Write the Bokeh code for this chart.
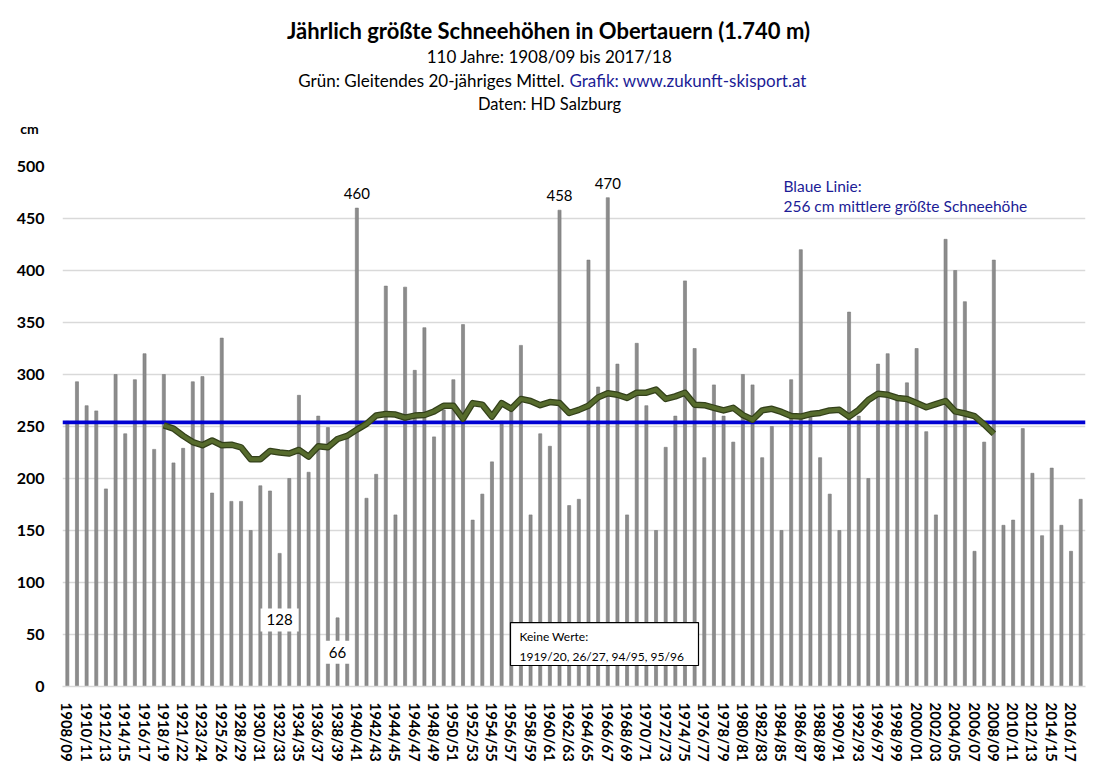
from bokeh.plotting import figure
from bokeh.layouts import column
from bokeh.models import Range1d, FixedTicker, Label, BoxAnnotation
from bokeh.core.properties import value
from bokeh.embed import file_html
from bokeh.resources import INLINE

# ---------------- data ----------------
seasons = [
    "1908/09", "1909/10", "1910/11", "1911/12", "1912/13", "1913/14", "1914/15", "1915/16",
    "1916/17", "1917/18", "1918/19", "1920/21", "1921/22", "1922/23", "1923/24", "1924/25",
    "1925/26", "1927/28", "1928/29", "1929/30", "1930/31", "1931/32", "1932/33", "1933/34",
    "1934/35", "1935/36", "1936/37", "1937/38", "1938/39", "1939/40", "1940/41", "1941/42",
    "1942/43", "1943/44", "1944/45", "1945/46", "1946/47", "1947/48", "1948/49", "1949/50",
    "1950/51", "1951/52", "1952/53", "1953/54", "1954/55", "1955/56", "1956/57", "1957/58",
    "1958/59", "1959/60", "1960/61", "1961/62", "1962/63", "1963/64", "1964/65", "1965/66",
    "1966/67", "1967/68", "1968/69", "1969/70", "1970/71", "1971/72", "1972/73", "1973/74",
    "1974/75", "1975/76", "1976/77", "1977/78", "1978/79", "1979/80", "1980/81", "1981/82",
    "1982/83", "1983/84", "1984/85", "1985/86", "1986/87", "1987/88", "1988/89", "1989/90",
    "1990/91", "1991/92", "1992/93", "1993/94", "1996/97", "1997/98", "1998/99", "1999/00",
    "2000/01", "2001/02", "2002/03", "2003/04", "2004/05", "2005/06", "2006/07", "2007/08",
    "2008/09", "2009/10", "2010/11", "2011/12", "2012/13", "2013/14", "2014/15", "2015/16",
    "2016/17", "2017/18",
]

snow_cm = [
    255, 293, 270, 265, 190, 300, 243, 295,
    320, 228, 300, 215, 229, 293, 298, 186,
    335, 178, 178, 150, 193, 188, 128, 200,
    280, 206, 260, 249, 66, 239, 460, 181,
    204, 385, 165, 384, 304, 345, 240, 266,
    295, 348, 160, 185, 216, 255, 267, 328,
    165, 243, 231, 458, 174, 180, 410, 288,
    470, 310, 165, 330, 270, 150, 230, 260,
    390, 325, 220, 290, 260, 235, 300, 290,
    220, 250, 150, 295, 420, 260, 220, 185,
    150, 360, 260, 200, 310, 320, 278, 292,
    325, 245, 165, 430, 400, 370, 130, 235,
    410, 155, 160, 248, 205, 145, 210, 155,
    130, 180,
]

# 20-year moving average (green), from 1918/19 to 2008/09
ma_first_season = "1918/19"
ma20_cm = [
    251, 248, 241, 235, 232, 236.5, 232, 232.5, 230, 218.5,
    218.5, 226.5, 225, 224, 227.5, 221, 231, 230, 238, 241,
    247, 252.5, 260.5, 262, 261.5, 258.5, 260.5, 261, 264.5, 270,
    270, 257.5, 272.5, 271, 259.5, 272.5, 267, 276.5, 274.5, 270.5,
    273.5, 272.5, 263, 266, 270, 278, 282, 280.5, 277.5, 282.5,
    282.5, 285.5, 276.5, 279, 282.5, 271, 270.5, 268, 265.5, 268,
    261, 256.5, 265.5, 267, 264, 260, 259.5, 262, 263, 265.5,
    266, 259.5, 266, 275.5, 281.5, 280.5, 277.5, 276.5, 272.5, 268.5,
    271.5, 274.5, 264.5, 262.5, 260, 252, 243,
]

mean_cm = 254
labels_outside = ["1940/41", "1961/62", "1966/67"]
labels_center = ["1932/33", "1938/39"]
y_ticks = [0, 50, 100, 150, 200, 250, 300, 350, 400, 450, 500]
x_tick_seasons = seasons[::2]

FONT = "Lato"
BLUE_TEXT = "#1c1c96"

# ---------------- header (titles) ----------------
h = figure(width=1100, height=150, x_range=Range1d(0, 1100), y_range=Range1d(150, 0),
           output_backend="svg", toolbar_location=None, min_border=0)
h.frame_align = False
h.axis.visible = False
h.grid.grid_line_color = None
h.outline_line_color = None

h.text(x=[548], y=[30], text=["Jährlich größte Schneehöhen in Obertauern (1.740 m)"],
       text_align="center", text_baseline="middle", text_font=value(FONT),
       text_font_size="22px", text_font_style="bold", text_color="#000000")
h.text(x=[549], y=[56], text=["110 Jahre: 1908/09 bis 2017/18"],
       text_align="center", text_baseline="middle", text_font=value(FONT),
       text_font_size="17px", text_color="#000000")
h.text(x=[564], y=[80], text=["Grün: Gleitendes 20-jähriges Mittel."],
       text_align="right", text_baseline="middle", text_font=value(FONT),
       text_font_size="17px", text_color="#000000")
h.text(x=[569], y=[80], text=["Grafik: www.zukunft-skisport.at"],
       text_align="left", text_baseline="middle", text_font=value(FONT),
       text_font_size="17px", text_color=BLUE_TEXT)
h.text(x=[549], y=[103], text=["Daten: HD Salzburg"],
       text_align="center", text_baseline="middle", text_font=value(FONT),
       text_font_size="16.5px", text_color="#000000")
h.text(x=[29], y=[128], text=["cm"],
       text_align="center", text_baseline="middle", text_font=value(FONT),
       text_font_size="14px", text_font_style="bold", text_color="#000000")

# ---------------- main chart ----------------
n = len(seasons)
xs = list(range(n))

p = figure(
    frame_width=1023, frame_height=520,
    min_border_left=62, min_border_right=15, min_border_top=16, min_border_bottom=84,
    x_range=Range1d(-0.5, n - 0.5), y_range=Range1d(0, 500),
    output_backend="svg", toolbar_location=None,
)
p.frame_align = False
p.outline_line_color = None
p.background_fill_color = "white"
p.border_fill_color = "white"

p.xgrid.grid_line_color = None
p.ygrid.ticker = FixedTicker(ticks=y_ticks)
p.ygrid.grid_line_color = "#d9d9d9"
p.ygrid.grid_line_width = 1.3

p.yaxis.ticker = FixedTicker(ticks=y_ticks)
p.yaxis.axis_line_color = None
p.yaxis.major_tick_line_color = None
p.yaxis.minor_tick_line_color = None
p.yaxis.major_label_standoff = 12
p.yaxis.major_label_text_font = FONT
p.yaxis.major_label_text_font_size = "16px"
p.yaxis.major_label_text_font_style = "bold"
p.yaxis.major_label_text_color = "#000000"

tick_idx = [seasons.index(s) for s in x_tick_seasons]
p.xaxis.ticker = FixedTicker(ticks=tick_idx)
p.xaxis.major_label_overrides = {i: seasons[i] for i in tick_idx}
p.xaxis.major_label_orientation = "vertical"
p.xaxis.axis_line_color = "#d9d9d9"
p.xaxis.axis_line_width = 1.3
p.xaxis.major_tick_line_color = None
p.xaxis.minor_tick_line_color = None
p.xaxis.major_label_standoff = 10
p.xaxis.major_label_text_font = FONT
p.xaxis.major_label_text_font_size = "15px"
p.xaxis.major_label_text_font_style = "bold"
p.xaxis.major_label_text_color = "#000000"

# bars
p.vbar(x=xs, top=snow_cm, bottom=0, width=0.32, fill_color="#8c8c8c", line_color="#7a7a7a", line_width=0.6)

# mean line (blue)
p.line(x=[-0.5, n - 0.5], y=[mean_cm, mean_cm], line_color="#0000d2", line_width=3.6)

# moving average (green)
ma_start = seasons.index(ma_first_season)
ma_x = [ma_start + i for i in range(len(ma20_cm))]
p.line(x=ma_x, y=ma20_cm, line_color="#33401a", line_width=6.5, line_join="round")
p.line(x=ma_x, y=ma20_cm, line_color="#566b2c", line_width=4, line_join="round")

# data labels
for s in labels_outside:
    i = seasons.index(s)
    p.add_layout(Label(x=i, y=snow_cm[i], y_offset=14.5, text=str(snow_cm[i]),
                       text_align="center", text_baseline="middle",
                       text_font=FONT, text_font_size="15px", text_color="#000000"))
for s in labels_center:
    i = seasons.index(s)
    p.add_layout(Label(x=i, y=snow_cm[i] / 2, text=str(snow_cm[i]),
                       text_align="center", text_baseline="middle",
                       text_font=FONT, text_font_size="15px", text_color="#000000",
                       background_fill_color="white", background_fill_alpha=1.0,
                       padding=6))

# "Keine Werte" box
p.add_layout(BoxAnnotation(left=45.92, right=65.4, bottom=20.2, top=61.5,
                           fill_color="white", fill_alpha=1.0,
                           line_color="#000000", line_alpha=1.0, line_width=1.2))
p.add_layout(Label(x=46.85, y=48.1, text="Keine Werte:", text_align="left", text_baseline="middle",
                   text_font=FONT, text_font_size="12px", text_color="#000000"))
p.add_layout(Label(x=46.85, y=28.8, text="1919/20, 26/27, 94/95, 95/96", text_align="left",
                   text_baseline="middle", text_font=FONT, text_font_size="12px", text_color="#000000"))

# blue annotation
p.add_layout(Label(x=74.2, y=481.7, text="Blaue Linie:", text_align="left", text_baseline="middle",
                   text_font=FONT, text_font_size="15.5px", text_color=BLUE_TEXT))
p.add_layout(Label(x=74.2, y=462.5, text="256 cm mittlere größte Schneehöhe", text_align="left",
                   text_baseline="middle", text_font=FONT, text_font_size="15.5px", text_color=BLUE_TEXT))

layout = column(h, p, spacing=0)
open("out.html", "w").write(file_html(layout, INLINE))
